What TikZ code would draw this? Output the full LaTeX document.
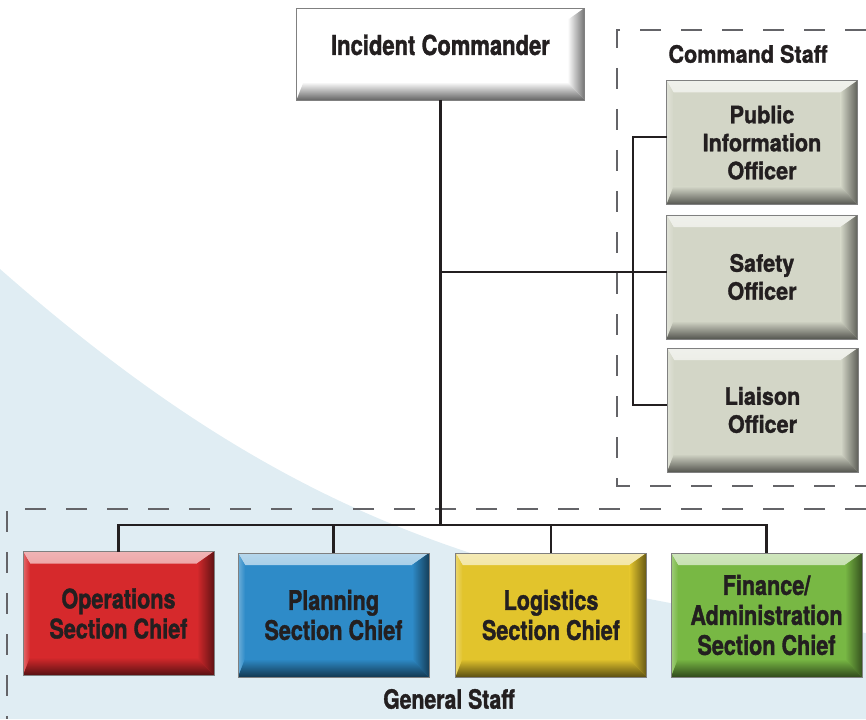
\documentclass[tikz,border=0pt]{standalone}
\usepackage{fontspec}
\setmainfont{TeX Gyre Heros}
\newfontfamily\condA{TeX Gyre Heros}[FakeStretch=0.8, BoldFeatures={FakeBold=1.3}]
\newfontfamily\condB{TeX Gyre Heros}[FakeStretch=0.9, BoldFeatures={FakeBold=1.3}]
\usetikzlibrary{calc}
\definecolor{txt}{RGB}{35,31,32}
\definecolor{bgblue}{RGB}{224,237,243}
\definecolor{dashgray}{RGB}{100,100,104}
\definecolor{cred}{RGB}{214,41,44}
\definecolor{cblue}{RGB}{46,139,200}
\definecolor{cyellow}{RGB}{226,196,44}
\definecolor{cgreen}{RGB}{120,184,68}
\definecolor{cgray}{RGB}{211,214,199}
\tikzset{
  bevel/.style={draw=black!50, line width=0.8pt, fill=#1, inner sep=0pt, outer sep=0pt,
    minimum width=191pt, minimum height=124pt, align=center, text=txt,
    font=\condA\bfseries\fontsize{27}{30}\selectfont,
    path picture={
      \shade[top color=#1!35!white, bottom color=#1]
        (path picture bounding box.north west) -- (path picture bounding box.north east)
        -- ([shift={(-17pt,-12pt)}]path picture bounding box.north east)
        -- ([shift={(7pt,-12pt)}]path picture bounding box.north west) -- cycle;
      \shade[left color=#1!70!white, right color=#1]
        (path picture bounding box.north west)
        -- ([shift={(7pt,-12pt)}]path picture bounding box.north west)
        -- ([shift={(7pt,18pt)}]path picture bounding box.south west)
        -- (path picture bounding box.south west) -- cycle;
      \shade[left color=#1, right color=#1!45!black]
        (path picture bounding box.north east) -- (path picture bounding box.south east)
        -- ([shift={(-17pt,18pt)}]path picture bounding box.south east)
        -- ([shift={(-17pt,-12pt)}]path picture bounding box.north east) -- cycle;
      \shade[top color=#1, bottom color=#1!40!black]
        (path picture bounding box.south west)
        -- ([shift={(7pt,18pt)}]path picture bounding box.south west)
        -- ([shift={(-17pt,18pt)}]path picture bounding box.south east)
        -- (path picture bounding box.south east) -- cycle;
    }},
  staffbox/.style={bevel=cgray, font=\condB\bfseries\fontsize{24}{28}\selectfont},
  conn/.style={draw=txt, line width=2.4pt},
  dashbox/.style={draw=dashgray, line width=1.2pt, dash pattern=on 21pt off 20pt},
  grouplabel/.style={text=txt, inner sep=0pt}
}
\begin{document}
\begin{tikzpicture}[x=1pt,y=-1pt]
\useasboundingbox (0,0) rectangle (866,719);
% background curve
\fill[bgblue] (0,269) .. controls (300,533) and (516,587.5) .. (866,633) -- (866,719) -- (0,719) -- cycle;
% dashed group frames
\draw[dashbox] (866,30) -- (617,30) -- (617,486) -- (866,486);
\draw[dashbox] (866,509) -- (7,509) -- (7,719);
% labels
\node[grouplabel, font=\condB\bfseries\fontsize{24}{28}\selectfont] (cslabel) at (748,54) {Command Staff};
\node[grouplabel, font=\condA\bfseries\fontsize{26.5}{30}\selectfont] (gslabel) at (449,699) {General Staff};
% boxes
\node[bevel=white, minimum width=288pt, minimum height=92pt, text height=20pt, text depth=18pt,
      font=\condA\bfseries\fontsize{27.5}{30}\selectfont] (ic) at (440.5,54) {Incident Commander};
\node[staffbox] (pio) at (762,142.5) {Public\\Information\\Officer};
\node[staffbox] (safety) at (762,277) {Safety\\Officer};
\node[staffbox] (liaison) at (762.5,410) {Liaison\\Officer};
\node[bevel=cred] (ops) at (118.5,613.5) {Operations\\Section Chief};
\node[bevel=cblue] (plan) at (333.5,615) {Planning\\Section Chief};
\node[bevel=cyellow] (log) at (551,615) {Logistics\\Section Chief};
\node[bevel=cgreen] (fin) at (766.5,615) {Finance/\\Administration\\Section Chief};
% connectors
\coordinate (busL) at (118.5,525);
\coordinate (busR) at (766.5,525);
\coordinate (tj) at (440.5,272);
\coordinate (csTop) at (633,137);
\coordinate (csBot) at (633,405);
\draw[conn] (ic.south) -- (ic.south |- busL);
\draw[conn, line cap=rect] (busL) -- (busR);
\draw[conn] (ops.north) -- (ops.north |- busL);
\draw[conn] (plan.north) -- (plan.north |- busL);
\draw[conn] (log.north) -- (log.north |- busL);
\draw[conn] (fin.north) -- (fin.north |- busR);
\draw[conn] (tj) -- (safety.west |- tj);
\draw[conn, line join=miter] (pio.west |- csTop) -- (csTop) -- (csBot) -- (liaison.west |- csBot);
\end{tikzpicture}
\end{document}
